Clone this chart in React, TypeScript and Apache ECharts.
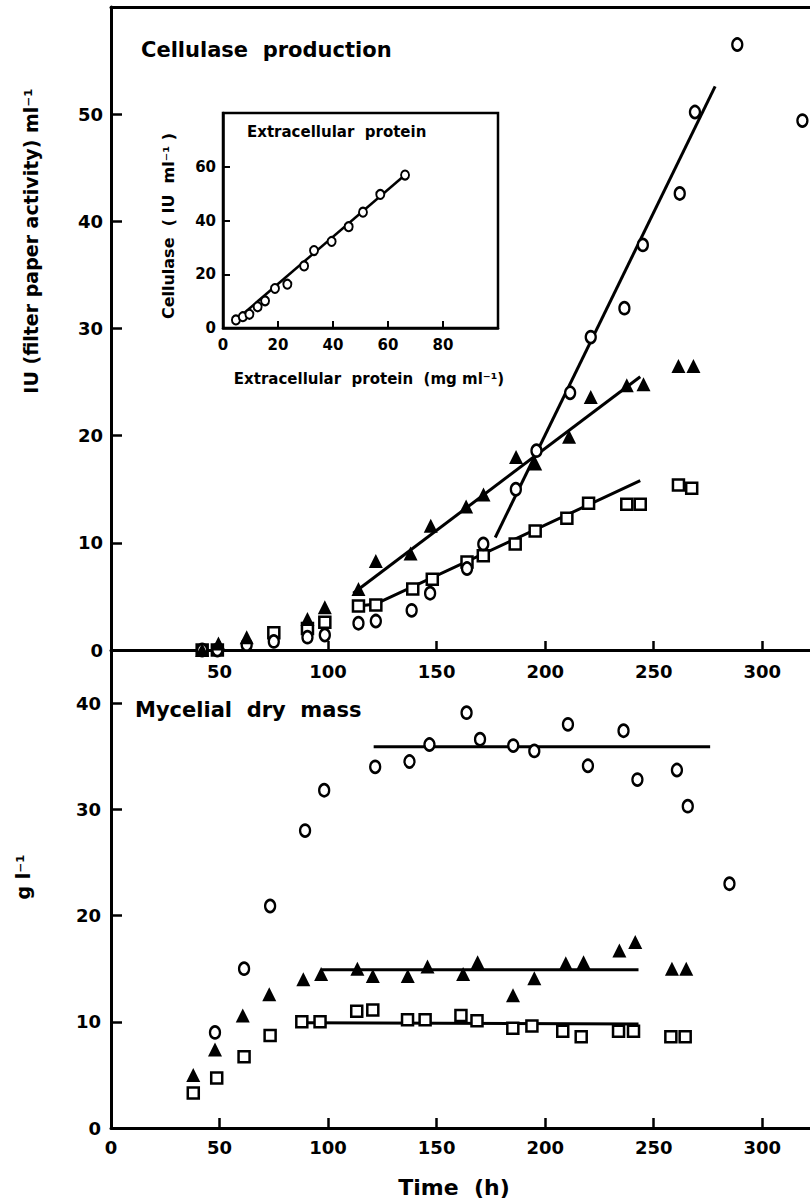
import React, { useEffect, useRef } from "react";
import * as echarts from "echarts";

// ---- Cellulase production, IU (filter paper activity) ml-1 ----
const cellCircleT = [42, 49, 62.5, 75, 90.5, 98.5, 114, 122, 138.5, 147, 164, 171.5, 186.5, 196, 211.5, 221, 236.5, 245, 262, 269, 288.5, 318.5];
const cellCircleV = [0, 0, 0.5, 0.8, 1.2, 1.4, 2.5, 2.7, 3.7, 5.3, 7.6, 9.9, 15.0, 18.6, 24.0, 29.2, 31.9, 37.8, 42.6, 50.2, 56.5, 49.4];

const cellTriangleT = [42, 49.5, 62.5, 90.5, 98.5, 114, 122, 138, 147.3, 163.6, 171.6, 186.6, 195.4, 211, 221, 237.6, 245.3, 261.4, 268.3];
const cellTriangleV = [0, 0.6, 1.2, 2.9, 4.0, 5.7, 8.3, 9.0, 11.6, 13.4, 14.5, 18.0, 17.4, 19.9, 23.6, 24.7, 24.8, 26.5, 26.5];

const cellSquareT = [42, 49, 75, 90.5, 98.5, 114, 122, 139, 148, 164, 171.5, 186.2, 195.4, 210, 220, 237.6, 243.8, 261.4, 267.5];
const cellSquareV = [0, 0, 1.6, 2.0, 2.6, 4.1, 4.2, 5.7, 6.6, 8.2, 8.8, 9.9, 11.1, 12.3, 13.7, 13.6, 13.6, 15.4, 15.1];

// fitted lines (time, IU ml-1)
const cellCircleFit = [[177, 10.5], [278.3, 52.6]];
const cellTriangleFit = [[111.6, 5.3], [243.8, 25.5]];
const cellSquareFit = [[114, 4.1], [122, 4.3], [243.8, 15.8]];

// ---- Mycelial dry mass, g l-1 ----
const massCircleT = [47.9, 61.3, 73.3, 89.4, 98.2, 121.7, 137.5, 146.7, 163.8, 170, 185.3, 195, 210.5, 219.7, 236.1, 242.5, 260.7, 265.7, 284.9];
const massCircleV = [9.0, 15.0, 20.9, 28.0, 31.8, 34.0, 34.5, 36.1, 39.1, 36.6, 36.0, 35.5, 38.0, 34.1, 37.4, 32.8, 33.7, 30.3, 23.0];

const massTriangleT = [37.9, 47.9, 60.7, 72.9, 88.6, 96.8, 113.5, 120.6, 136.7, 145.8, 162.2, 168.9, 185.2, 195, 209.5, 217.7, 234.2, 241.5, 258.4, 265];
const massTriangleV = [5.0, 7.4, 10.6, 12.6, 14.0, 14.5, 15.0, 14.3, 14.3, 15.2, 14.5, 15.6, 12.5, 14.1, 15.5, 15.6, 16.7, 17.5, 15.0, 15.0];

const massSquareT = [37.9, 48.7, 61.3, 73.3, 87.9, 96.3, 113.2, 120.6, 136.6, 144.7, 161.2, 168.6, 185.1, 193.9, 208.1, 216.6, 233.8, 240.7, 257.9, 264.5];
const massSquareV = [3.3, 4.7, 6.7, 8.7, 10.0, 10.0, 11.0, 11.1, 10.2, 10.2, 10.6, 10.1, 9.4, 9.6, 9.1, 8.6, 9.1, 9.1, 8.6, 8.6];

const massCircleFit = [[121, 35.9], [276, 35.9]];
const massTriangleFit = [[97, 14.9], [243, 14.9]];
const massSquareFit = [[90, 9.9], [243, 9.8]];

// ---- Inset: cellulase vs extracellular protein ----
const protX = [4.7, 7.2, 9.6, 12.6, 15.3, 18.9, 23.4, 29.5, 33.1, 39.5, 45.7, 50.9, 57.2, 66.2];
const protY = [3.0, 4.2, 5.1, 7.9, 10.1, 14.7, 16.3, 23.1, 28.8, 32.2, 37.7, 43.1, 49.7, 56.9];
const protFit = [[4.5, 2.8], [66.5, 57.2]];

// tick labels
const timeTicksTop = [50, 100, 150, 200, 250, 300];
const timeTicksBottom = [0, 50, 100, 150, 200, 250, 300];
const cellTicks = [0, 10, 20, 30, 40, 50];
const massTicks = [0, 10, 20, 30, 40];
const insetXTicks = [0, 20, 40, 60, 80];
const insetYTicks = [0, 20, 40, 60];

const FONT = '"DejaVu Sans", "Liberation Sans", sans-serif';

const zip = (a: number[], b: number[]) => a.map((v, i) => [v, b[i]]);

export default function App() {
  const ref = useRef<HTMLDivElement>(null);

  useEffect(() => {
    if (!ref.current) return;
    const chart = echarts.init(ref.current, undefined, { renderer: "svg" });

    const labelStyle = (size: number, margin: number, values: number[]) => ({
      customValues: values,
      color: "#000",
      fontFamily: FONT,
      fontWeight: "bold" as const,
      fontSize: size,
      margin,
    });
    const tickStyle = (len: number, values: number[], w = 2.5) => ({
      show: true,
      inside: true,
      length: len,
      customValues: values,
      lineStyle: { color: "#000", width: w },
    });
    const lineStyle = (w: number) => ({ show: true, onZero: false, lineStyle: { color: "#000", width: w } });

    const openCircle = (size: number | number[], bw: number) => ({
      symbol: "circle",
      symbolSize: size,
      itemStyle: { color: "#fff", borderColor: "#000", borderWidth: bw, opacity: 1 },
    });
    const openSquare = (size: number, bw: number) => ({
      symbol: "rect",
      symbolSize: size,
      itemStyle: { color: "#fff", borderColor: "#000", borderWidth: bw, opacity: 1 },
    });
    const filledTriangle = (size: number) => ({
      symbol: "triangle",
      symbolSize: size,
      itemStyle: { color: "#000", opacity: 1 },
    });

    const scatter = (xi: number, yi: number, data: number[][], sym: object, z = 3) => ({
      type: "scatter",
      xAxisIndex: xi,
      yAxisIndex: yi,
      data,
      z,
      silent: true,
      ...sym,
    });
    const fit = (xi: number, yi: number, data: number[][], w = 3) => ({
      type: "line",
      xAxisIndex: xi,
      yAxisIndex: yi,
      data,
      showSymbol: false,
      symbol: "none",
      z: 2,
      silent: true,
      lineStyle: { color: "#000", width: w },
    });

    const option = {
      animation: false,
      backgroundColor: "#fff",
      grid: [
        { left: 111, top: 7, width: 699, height: 643 },
        { left: 111, top: 650, width: 699, height: 478 },
        {
          left: 223,
          top: 113,
          width: 275,
          height: 215,
          show: true,
          borderColor: "#000",
          borderWidth: 2.5,
          backgroundColor: "#fff",
          z: 4,
        },
      ],
      xAxis: [
        {
          gridIndex: 0,
          type: "value",
          min: 0,
          max: 322,
          axisLine: lineStyle(3),
          axisTick: tickStyle(9, timeTicksTop),
          axisLabel: labelStyle(18, 12, timeTicksTop),
          splitLine: { show: false },
        },
        {
          gridIndex: 0,
          type: "value",
          position: "top",
          min: 0,
          max: 322,
          axisLine: lineStyle(3),
          axisTick: { show: false },
          axisLabel: { show: false },
          splitLine: { show: false },
        },
        {
          gridIndex: 1,
          type: "value",
          min: 0,
          max: 322,
          axisLine: lineStyle(3),
          axisTick: tickStyle(10, [50, 100, 150, 200, 250, 300]),
          axisLabel: labelStyle(18, 10, timeTicksBottom),
          splitLine: { show: false },
        },
        {
          gridIndex: 2,
          type: "value",
          min: 0,
          max: 100,
          z: 5,
          axisLine: lineStyle(2.5),
          axisTick: tickStyle(7, [20, 40, 60, 80], 2),
          axisLabel: labelStyle(15, 9, insetXTicks),
          splitLine: { show: false },
        },
      ],
      yAxis: [
        {
          gridIndex: 0,
          type: "value",
          min: 0,
          max: 60,
          axisLine: lineStyle(3),
          axisTick: tickStyle(11, [10, 20, 30, 40, 50]),
          axisLabel: labelStyle(18, 8, cellTicks),
          splitLine: { show: false },
        },
        {
          gridIndex: 1,
          type: "value",
          min: 0,
          max: 45,
          axisLine: lineStyle(3),
          axisTick: tickStyle(11, [10, 20, 30, 40]),
          axisLabel: labelStyle(18, 10, massTicks),
          splitLine: { show: false },
        },
        {
          gridIndex: 2,
          type: "value",
          min: 0,
          max: 80,
          z: 5,
          axisLine: lineStyle(2.5),
          axisTick: tickStyle(7, [20, 40, 60], 2),
          axisLabel: labelStyle(15, 7, insetYTicks),
          splitLine: { show: false },
        },
      ],
      series: [
        // cellulase production
        fit(0, 0, cellCircleFit),
        fit(0, 0, cellTriangleFit),
        fit(0, 0, cellSquareFit),
        scatter(0, 0, zip(cellSquareT, cellSquareV), openSquare(11, 2.5)),
        scatter(0, 0, zip(cellCircleT, cellCircleV), openCircle([10, 12], 2.5)),
        scatter(0, 0, zip(cellTriangleT, cellTriangleV), filledTriangle(14)),
        // mycelial dry mass
        fit(2, 1, massCircleFit),
        fit(2, 1, massTriangleFit),
        fit(2, 1, massSquareFit),
        scatter(2, 1, zip(massSquareT, massSquareV), openSquare(11, 2.5)),
        scatter(2, 1, zip(massCircleT, massCircleV), openCircle([10, 12], 2.5)),
        scatter(2, 1, zip(massTriangleT, massTriangleV), filledTriangle(14)),
        // inset
        { ...fit(3, 2, protFit, 2.5), z: 6 },
        scatter(3, 2, zip(protX, protY), openCircle([8, 9], 2), 7),
      ],
      graphic: [
        {
          type: "text",
          x: 141,
          y: 50,
          style: { text: "Cellulase  production", fill: "#000", font: `bold 21px ${FONT}`, align: "left", verticalAlign: "middle" },
        },
        {
          type: "text",
          x: 135,
          y: 710,
          style: { text: "Mycelial  dry  mass", fill: "#000", font: `bold 21px ${FONT}`, align: "left", verticalAlign: "middle" },
        },
        {
          type: "text",
          x: 454,
          y: 1187,
          style: { text: "Time  (h)", fill: "#000", font: `bold 22px ${FONT}`, align: "center", verticalAlign: "middle" },
        },
        {
          type: "text",
          x: 31,
          y: 241,
          rotation: Math.PI / 2,
          style: { text: "IU (filter paper activity) ml⁻¹", fill: "#000", font: `bold 19px ${FONT}`, align: "center", verticalAlign: "middle" },
        },
        {
          type: "text",
          x: 23,
          y: 877,
          rotation: Math.PI / 2,
          style: { text: "g l⁻¹", fill: "#000", font: `bold 19px ${FONT}`, align: "center", verticalAlign: "middle" },
        },
        {
          type: "text",
          x: 247,
          y: 132,
          z: 10,
          style: { text: "Extracellular  protein", fill: "#000", font: `bold 15px ${FONT}`, align: "left", verticalAlign: "middle" },
        },
        {
          type: "text",
          x: 369,
          y: 379,
          style: { text: "Extracellular  protein  (mg ml⁻¹)", fill: "#000", font: `bold 15px ${FONT}`, align: "center", verticalAlign: "middle" },
        },
        {
          type: "text",
          x: 168,
          y: 226,
          rotation: Math.PI / 2,
          style: { text: "Cellulase  ( IU  ml⁻¹ )", fill: "#000", font: `bold 16px ${FONT}`, align: "center", verticalAlign: "middle" },
        },
      ],
    };

    chart.setOption(option as any);
    return () => chart.dispose();
  }, []);

  return (
    <div
      ref={ref}
      style={{ position: "absolute", left: 0, top: 0, width: 810, height: 1203, background: "#fff" }}
    />
  );
}
